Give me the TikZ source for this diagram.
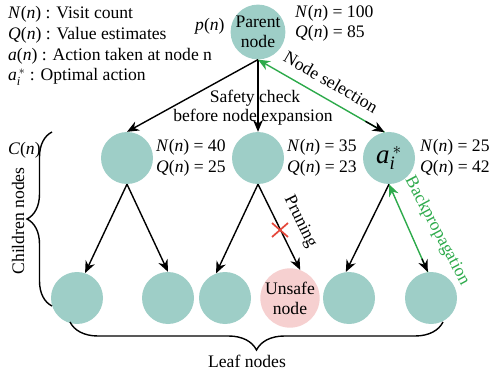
\documentclass[tikz,border=0pt]{standalone}
\usepackage{fontspec}
\setmainfont{Liberation Serif}
\usetikzlibrary{arrows.meta,decorations.pathreplacing,calc}
\definecolor{teal1}{HTML}{9ECEC7}
\definecolor{pink1}{HTML}{F6D0D0}
\definecolor{grn}{HTML}{2DAA4B}
\definecolor{xred}{HTML}{E5473A}
\newcommand\vi[1]{\textit{#1}}
\begin{document}
\begin{tikzpicture}[x=1pt,y=-1pt, font=\fontsize{17.6}{20}\selectfont,
 tnode/.style={circle, fill=teal1, minimum size=52pt, inner sep=0pt, align=center},
 unode/.style={circle, fill=pink1, minimum size=52pt, inner sep=0pt, align=center},
 arr/.style={-{Stealth[length=12pt,width=10pt]}, line width=1.4pt},
 garr/.style={-{Stealth[length=12pt,width=10pt]}, line width=1.4pt, color=grn},
 lab/.style={anchor=base west, inner sep=0pt},
 clab/.style={anchor=base, inner sep=0pt},
 brc/.style={decorate, decoration={brace, amplitude=#1}, line width=1.4pt}]
\useasboundingbox (0,0) rectangle (490,377);

% legend
\node[lab] (l1) at (8,19) {\vi{N}(\vi{n}) : Visit count};
\node[lab] (l2) at (8,40) {\vi{Q}(\vi{n}) : Value estimates};
\node[lab] (l3) at (8,61) {\vi{a}(\vi{n}) : Action taken at node n};
\node[lab] (l4) at (8,81) {$\mathit{a}_{\mathit{i}}^{\,*}$ : Optimal action};

% nodes
\node[tnode] (P) at (258,32) {Parent\\node};
\node[tnode] (C1) at (127,158) {};
\node[tnode] (C2) at (258,158) {};
\node[tnode] (C3) at (389,158) {\fontsize{27}{27}\selectfont$\mathit{a}_{\mathit{i}}^{\,*}$};
\node[tnode] (L1) at (77,298) {};
\node[tnode] (L2) at (168,298) {};
\node[tnode] (L3) at (225,298) {};
\node[unode] (U) at (290,298) {Unsafe\\node};
\node[tnode] (L5) at (349,298) {};
\node[tnode] (L6) at (431,298) {};

% labels near nodes
\node[lab] (pn) at (195,31) {\vi{p}(\vi{n})};
\node[lab] (pN) at (295,18) {\vi{N}(\vi{n}) = 100};
\node[lab] (pQ) at (295,38) {\vi{Q}(\vi{n}) = 85};
\node[lab] (c1N) at (156,152) {\vi{N}(\vi{n}) = 40};
\node[lab] (c1Q) at (156,172) {\vi{Q}(\vi{n}) = 25};
\node[lab] (c2N) at (287,152) {\vi{N}(\vi{n}) = 35};
\node[lab] (c2Q) at (287,172) {\vi{Q}(\vi{n}) = 23};
\node[lab] (c3N) at (420,152) {\vi{N}(\vi{n}) = 25};
\node[lab] (c3Q) at (420,172) {\vi{Q}(\vi{n}) = 42};
\node[clab] (s1) at (255,103) {Safety check};
\node[clab] (s2) at (253,122) {before node expansion};
\node[lab] (cn) at (8,155) {\vi{C}(\vi{n})};

% arrows from parent
\draw[arr] (P.south) -- (C1.north);
\draw[arr] (P.south) -- (C2.north);
\draw[garr] (C3.100) -- (P.south);
\draw[arr] ($(P.south)!0.85!(C3.100)$) -- (C3.100);
\node[rotate=-30] (ns) at (331,82) {Node selection};

% arrows to leaves
\draw[arr] (C1.south) -- (L1.72);
\draw[arr] (C1.south) -- (L2.north);
\draw[arr] (C2.south) -- (L3.110);
\draw[arr] (C2.south) -- (U.70);
\draw[arr] (C3.south) -- (L5.97);
\draw[garr] (L6.97) -- (C3.south);
\draw[arr] ($(C3.south)!0.85!(L6.97)$) -- (L6.97);
\node[rotate=-64] (pr) at (300,222) {Pruning};
\node[rotate=-62, text=grn] (bp) at (437,231) {Backpropagation};

% red cross
\coordinate (X) at (280,230);
\draw[xred, line width=1.7pt] ([shift={(-8,-7)}]X) -- ([shift={(8,7)}]X);
\draw[xred, line width=1.7pt] ([shift={(-8,7)}]X) -- ([shift={(8,-7)}]X);

% braces
\draw[brc=25pt] (52,306) -- (52,132);
\node[rotate=90] (chn) at (18,221) {Children nodes};
\draw[brc=28pt] (443,322) -- (70,322);
\node[clab] (lf) at (247,367) {Leaf nodes};
\end{tikzpicture}
\end{document}
